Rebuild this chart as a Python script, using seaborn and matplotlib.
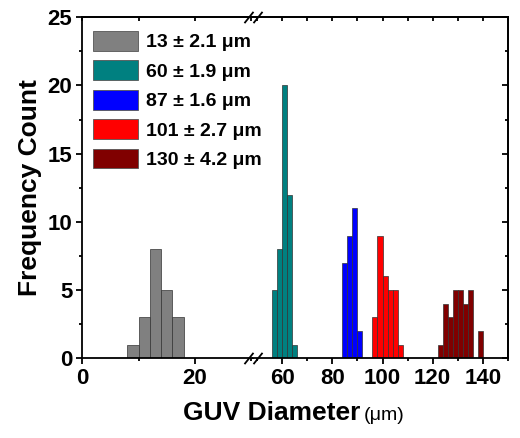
import matplotlib
matplotlib.use('Agg')
import matplotlib.pyplot as plt
from matplotlib.patches import Patch
from matplotlib.path import Path
from matplotlib.ticker import MultipleLocator
import seaborn as sns

# bin centres (um) and counts per population, bins are 2 um wide
gray_centers = [9, 11, 13, 15, 17]
gray_counts = [1, 3, 8, 5, 3]
teal_centers = [57, 59, 61, 63, 65]
teal_counts = [5, 8, 20, 12, 1]
blue_centers = [85, 87, 89, 91]
blue_counts = [7, 9, 11, 2]
red_centers = [97, 99, 101, 103, 105, 107]
red_counts = [3, 9, 6, 5, 5, 1]
dred_centers = [123, 125, 127, 129, 131, 133, 135, 137, 139]
dred_counts = [1, 4, 3, 5, 5, 4, 5, 0, 2]

labels = ['13 ± 2.1 μm', '60 ± 1.9 μm', '87 ± 1.6 μm', '101 ± 2.7 μm', '130 ± 4.2 μm']
colors = ['#808080', '#008080', '#0000ff', '#ff0000', '#800000']
bin_width = 2

sns.set_style('ticks')
plt.rcParams['font.family'] = ['Liberation Sans', 'DejaVu Sans']
plt.rcParams['font.weight'] = 'bold'
plt.rcParams.update({'axes.linewidth': 1.3, 'axes.edgecolor': 'black',
                     'xtick.color': 'black', 'ytick.color': 'black',
                     'text.color': 'black', 'axes.labelcolor': 'black'})

fig = plt.figure(figsize=(5.2, 4.38), dpi=100)
left, bottom, h = 0.158, 0.182, 0.7785
w1, w2 = 0.3283, 0.4904
ax1 = fig.add_axes([left, bottom, w1, h])
ax2 = fig.add_axes([left + w1, bottom, w2, h])


def draw_hist(ax, centers, counts, color):
    sns.histplot(x=centers, weights=counts, binwidth=bin_width,
                 binrange=(min(centers) - 1, max(centers) + 1),
                 color=color, alpha=1, edgecolor='#333333', linewidth=0.5, ax=ax)


draw_hist(ax1, gray_centers, gray_counts, colors[0])
for cen, cnt, col in [(teal_centers, teal_counts, colors[1]),
                      (blue_centers, blue_counts, colors[2]),
                      (red_centers, red_counts, colors[3]),
                      (dred_centers, dred_counts, colors[4])]:
    draw_hist(ax2, cen, cnt, col)

ax1.set_xlim(0, 30.3)
ax2.set_xlim(48.3, 150)
for ax in (ax1, ax2):
    ax.set_ylim(0, 25)
    ax.set_xlabel('')
    ax.set_ylabel('')
    ax.yaxis.set_major_locator(MultipleLocator(5))
    ax.yaxis.set_minor_locator(MultipleLocator(2.5))
    ax.xaxis.set_major_locator(MultipleLocator(20))
    ax.xaxis.set_minor_locator(MultipleLocator(10))
    ax.tick_params(which='major', length=4, width=1.3, labelsize=16, direction='out', pad=3)
    ax.tick_params(which='minor', length=2.5, width=1.3, direction='out')

ax1.spines['right'].set_visible(False)
ax2.spines['left'].set_visible(False)
ax2.tick_params(axis='y', which='both', left=False, labelleft=False)

# inward ticks on top and right
for ax in (ax1, ax2):
    top = ax.secondary_xaxis('top')
    top.xaxis.set_major_locator(MultipleLocator(10))
    top.tick_params(direction='in', length=3, width=1.3, labeltop=False)
right = ax2.secondary_yaxis('right')
right.yaxis.set_major_locator(MultipleLocator(5))
right.yaxis.set_minor_locator(MultipleLocator(2.5))
right.tick_params(which='major', direction='in', length=4, width=1.3, labelright=False)
right.tick_params(which='minor', direction='in', length=2.5, width=1.3)

for t in ax1.get_xticklabels() + ax2.get_xticklabels() + ax1.get_yticklabels():
    t.set_fontweight('bold')

# axis break marks
brk = Path([(-1.6, -1), (0.0, 1), (0.0, -1), (1.6, 1)],
           [Path.MOVETO, Path.LINETO, Path.MOVETO, Path.LINETO])
ax2.plot([0, 0], [0, 1], transform=ax2.transAxes, marker=brk, markersize=13,
         linestyle='none', color='k', mec='k', mew=1.3, clip_on=False, zorder=5)

ax1.set_ylabel('Frequency Count', fontsize=19, fontweight='bold', labelpad=4)
fig.text(360 / 520, 1 - 420 / 438, 'GUV Diameter', ha='right', va='baseline',
         fontsize=19, fontweight='bold')
fig.text(364 / 520, 1 - 420 / 438, '(μm)', ha='left', va='baseline',
         fontsize=14, fontweight='normal')

handles = [Patch(facecolor=c, edgecolor='#555555', linewidth=0.6) for c in colors]
fig.legend(handles, labels, loc='upper left', bbox_to_anchor=(0.1795, 0.93),
           frameon=False, handlelength=2.3, handleheight=1.2,
           handletextpad=0.4, labelspacing=0.46, borderpad=0, borderaxespad=0,
           prop={'weight': 'bold', 'size': 14})

fig.savefig('out.png', dpi=100)
